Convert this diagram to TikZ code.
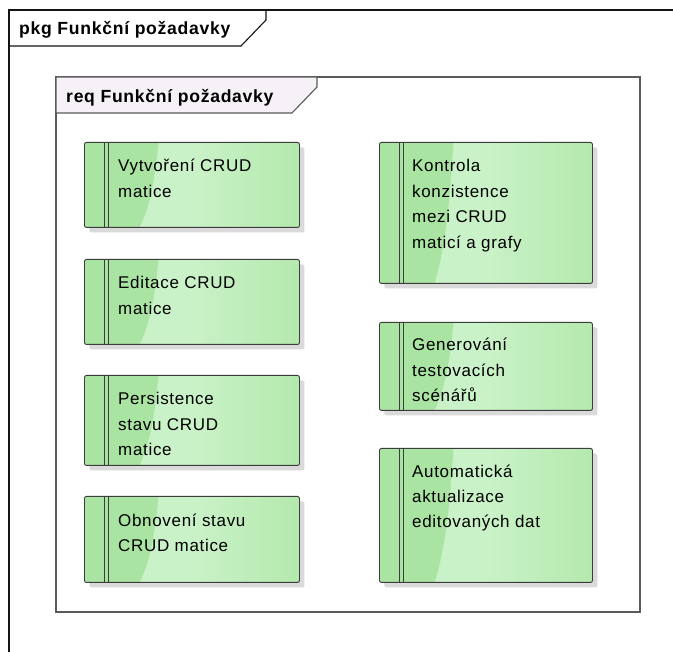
\documentclass[tikz,border=0pt]{standalone}
\usepackage{fontspec}
\setmainfont{Liberation Sans}[LetterSpace=4]
\usetikzlibrary{shadows,calc}

\definecolor{frameouter}{RGB}{20,20,20}
\definecolor{frameinner}{RGB}{90,90,90}
\definecolor{tabfill}{RGB}{246,241,246}
\definecolor{boxline}{RGB}{60,60,60}
\definecolor{gDark}{RGB}{170,228,162}
\definecolor{gLight}{RGB}{202,242,200}
\definecolor{gEdge}{RGB}{158,224,146}
\definecolor{shadowgray}{RGB}{218,218,218}

% glassy requirement fill: light body darkening towards the right edge
\pgfdeclarehorizontalshading{reqglass}{100bp}{color(0bp)=(gLight); color(50bp)=(gLight); color(100bp)=(gEdge)}

\tikzset{
  reqbox/.style 2 args={
    draw=boxline, line width=0.9pt, rounded corners=2pt,
    minimum width=#1, minimum height=#2, inner sep=0pt, anchor=north west,
    shading=reqglass,
    drop shadow={shadow xshift=5pt, shadow yshift=-5pt, fill=shadowgray, opacity=1},
    path picture={
      \path (path picture bounding box.north west) coordinate (pa)
            (path picture bounding box.south east) coordinate (pb);
      % darker band on the left with a curved edge
      \fill[gDark, sharp corners] let \p1=(pa), \p2=(pb) in
        (\x1,\y1) -- (\x1+74pt,\y1)
        .. controls (\x1+70pt,{\y1+0.5*(\y2-\y1)}) and (\x1+64pt,{\y1+0.8*(\y2-\y1)}) ..
        (\x1+55pt,\y2) -- (\x1,\y2) -- cycle;
      % double bar of the requirement symbol
      \draw[boxline, line width=0.8pt, sharp corners] let \p1=(pa), \p2=(pb) in
        (\x1+20pt,\y1) -- (\x1+20pt,\y2)
        (\x1+24pt,\y1) -- (\x1+24pt,\y2);
    }
  },
  % text block placed by the baseline of its last line
  reqtext/.style={anchor=base west, inner sep=0pt, align=left,
    font=\fontsize{17}{25.5}\selectfont, text=black},
  hdr/.style={anchor=base west, inner sep=0pt,
    font=\fontsize{17.6}{20}\selectfont\bfseries, text=black},
}

\begin{document}
\begin{tikzpicture}[x=1pt, y=-1pt]
  \useasboundingbox[fill=white] (0,0) rectangle (673,652);

  % package frame (runs off the page to the right and bottom)
  \draw[frameouter, line width=1.2pt] (9,652) -- (9,10) -- (673,10);
  \draw[frameouter, line width=1.1pt] (9,46) -- (241,46) -- (266,20) -- (266,10);
  \node[hdr] (pkgt) at (19,35) {pkg Funkční požadavky};

  % requirements diagram frame
  \draw[frameinner, line width=1.3pt] (56,77) rectangle (640,612);
  \draw[frameinner, line width=1.1pt, fill=tabfill]
    (56,77) -- (317,77) -- (317,87) -- (292,113) -- (56,113) -- cycle;
  \node[hdr] (reqt) at (66,103) {req Funkční požadavky};

  % left column
  \node[reqbox={215pt}{85pt}] (b1) at (84,142) {};
  \node[reqbox={215pt}{85pt}] (b2) at (84,259) {};
  \node[reqbox={215pt}{90pt}] (b3) at (84,375) {};
  \node[reqbox={215pt}{86pt}] (b4) at (84,496) {};
  % right column
  \node[reqbox={213pt}{141pt}] (b5) at (379,142) {};
  \node[reqbox={213pt}{88pt}]  (b6) at (379,322) {};
  \node[reqbox={213pt}{134pt}] (b7) at (379,448) {};

  \node[reqtext] (b1t) at ([xshift=34pt, yshift=-55.5pt]b1.north west) {Vytvoření CRUD\\matice};
  \node[reqtext] (b2t) at ([xshift=34pt, yshift=-55.5pt]b2.north west) {Editace CRUD\\matice};
  \node[reqtext] (b3t) at ([xshift=34pt, yshift=-81pt]b3.north west) {Persistence\\stavu CRUD\\matice};
  \node[reqtext] (b4t) at ([xshift=34pt, yshift=-56pt]b4.north west) {Obnovení stavu\\CRUD matice};
  \node[reqtext] (b5t) at ([xshift=33pt, yshift=-106.5pt]b5.north west) {Kontrola\\konzistence\\mezi CRUD\\maticí a grafy};
  \node[reqtext] (b6t) at ([xshift=33pt, yshift=-80pt]b6.north west) {Generování\\testovacích\\scénářů};
  \node[reqtext] (b7t) at ([xshift=33pt, yshift=-80pt]b7.north west) {Automatická\\aktualizace\\editovaných dat};
\end{tikzpicture}
\end{document}
